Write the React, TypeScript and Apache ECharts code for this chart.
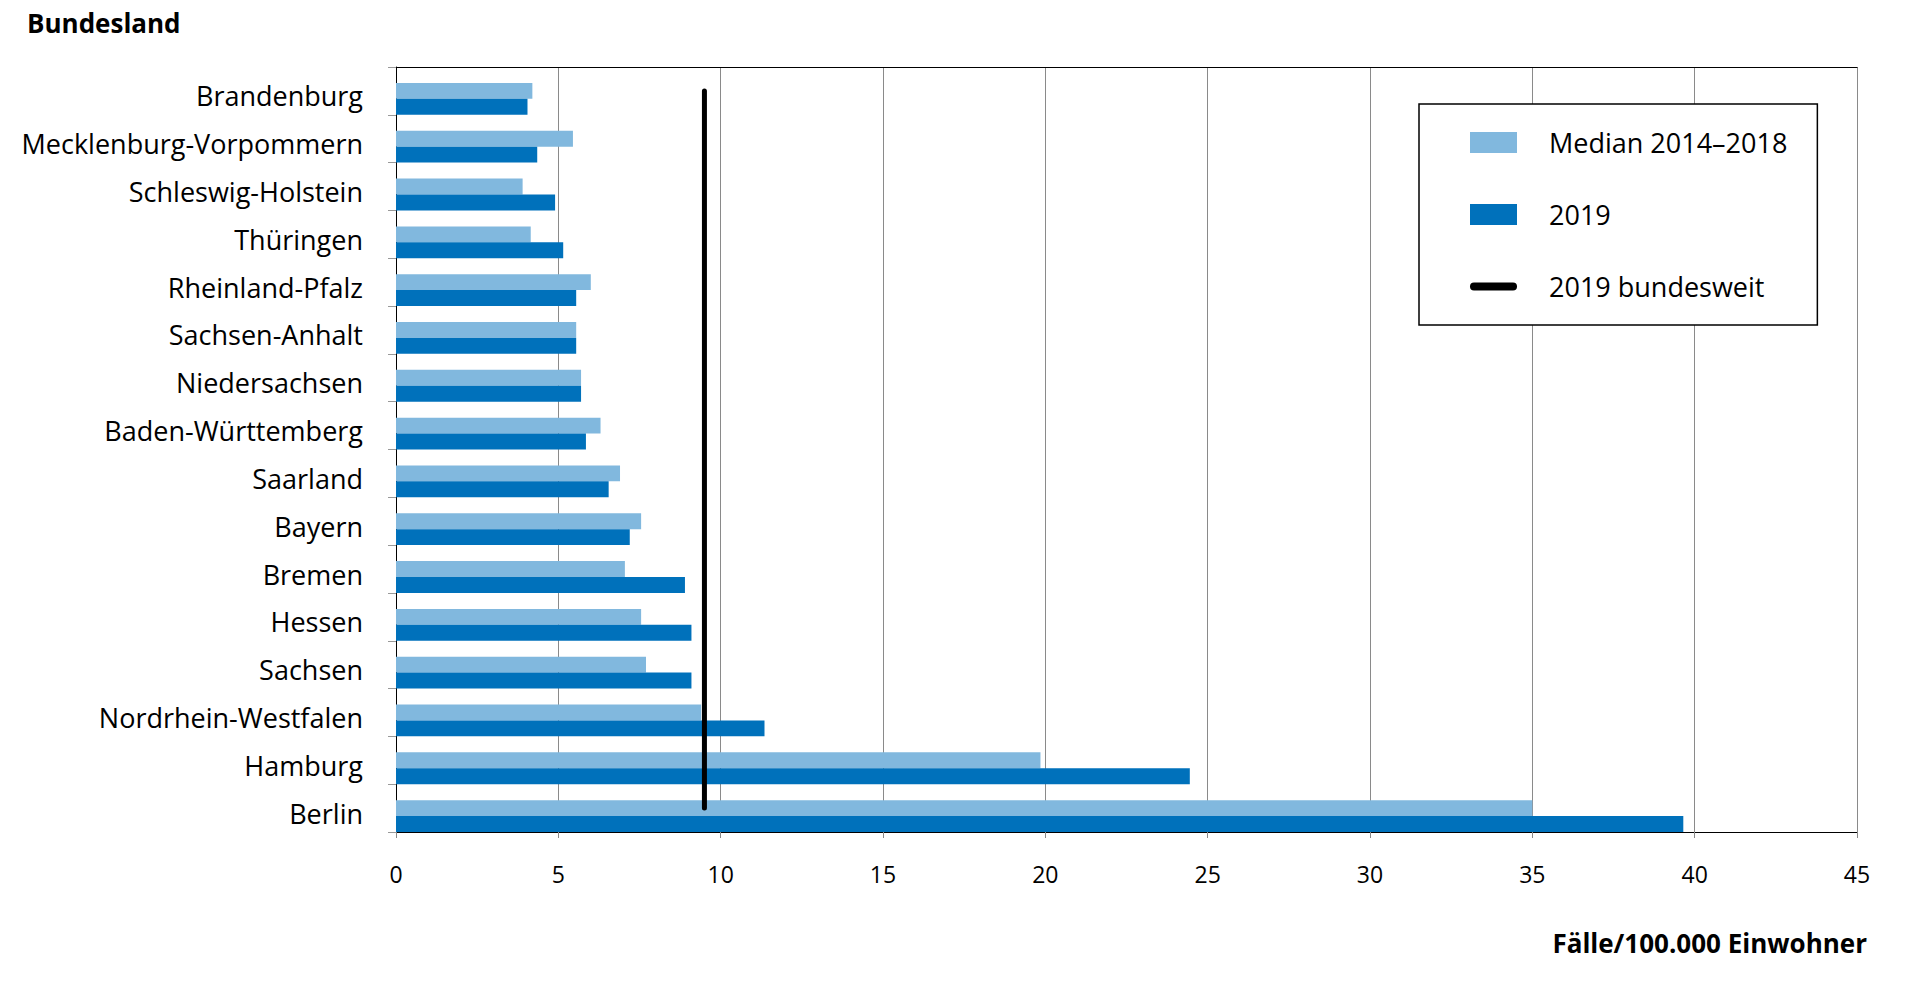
import React, { useEffect, useRef } from 'react';
import * as echarts from 'echarts';

const categories = [
  'Brandenburg',
  'Mecklenburg-Vorpommern',
  'Schleswig-Holstein',
  'Thüringen',
  'Rheinland-Pfalz',
  'Sachsen-Anhalt',
  'Niedersachsen',
  'Baden-Württemberg',
  'Saarland',
  'Bayern',
  'Bremen',
  'Hessen',
  'Sachsen',
  'Nordrhein-Westfalen',
  'Hamburg',
  'Berlin',
];
const median20142018 = [4.2, 5.45, 3.9, 4.15, 6.0, 5.55, 5.7, 6.3, 6.9, 7.55, 7.05, 7.55, 7.7, 9.4, 19.85, 35.0];
const values2019 = [4.05, 4.35, 4.9, 5.15, 5.55, 5.55, 5.7, 5.85, 6.55, 7.2, 8.9, 9.1, 9.1, 11.35, 24.45, 39.65];
const bundesweit2019 = 9.5;
const xMin = 0;
const xMax = 45;
const xStep = 5;

const seriesNames = ['Median 2014–2018', '2019', '2019 bundesweit'];
const yAxisTitle = 'Bundesland';
const xAxisTitle = 'Fälle/100.000 Einwohner';

const FONT = '"Open Sans", "Noto Sans", sans-serif';
const LIGHT = '#81b8de';
const DARK = '#0071bb';
const BAR_W = 15.93;

export default function App() {
  const ref = useRef<HTMLDivElement>(null);
  useEffect(() => {
    const chart = echarts.init(ref.current!, null, { renderer: 'svg' });
    const option = {
      animation: false,
      backgroundColor: '#fff',
      grid: { left: 396, right: 50, top: 67, bottom: 157, containLabel: false },
      xAxis: [
        {
          type: 'value',
          min: xMin,
          max: xMax,
          interval: xStep,
          position: 'bottom',
          axisLine: { show: true, lineStyle: { color: '#000', width: 1 } },
          axisTick: { show: true, length: 6, lineStyle: { color: '#888' } },
          axisLabel: { fontFamily: FONT, fontSize: 23, color: '#000', margin: 30 },
          splitLine: { show: true, lineStyle: { color: '#8a8a8a', width: 1 } },
        },
        {
          type: 'value',
          min: xMin,
          max: xMax,
          interval: xStep,
          position: 'top',
          axisLine: { show: true, lineStyle: { color: '#000', width: 1 } },
          axisTick: { show: false },
          axisLabel: { show: false },
          splitLine: { show: false },
        },
      ],
      yAxis: {
        type: 'category',
        inverse: true,
        data: categories,
        axisLine: { show: true, lineStyle: { color: '#000', width: 1 } },
        axisTick: { show: true, length: 8, lineStyle: { color: '#999' } },
        axisLabel: {
          fontFamily: FONT,
          fontSize: 27,
          color: '#000',
          margin: 33,
          verticalAlign: 'top',
          lineHeight: 10,
        },
        splitLine: { show: false },
      },
      legend: {
        orient: 'vertical',
        left: 1419,
        top: 104,
        padding: [25, 30, 25, 51],
        itemWidth: 47,
        itemHeight: 21,
        itemGap: 45,
        borderColor: '#000',
        borderWidth: 1.5,
        backgroundColor: '#fff',
        selectedMode: false,
        data: [
          { name: seriesNames[0], icon: 'rect' },
          { name: seriesNames[1], icon: 'rect' },
          { name: seriesNames[2], icon: 'path://M4,0H43A4,4 0 0 1 43,8H4A4,4 0 0 1 4,0Z' },
        ],
        formatter: '{t|{name}}',
        textStyle: {
          rich: {
            t: { fontFamily: FONT, fontSize: 27, color: '#000', padding: [0, 0, 0, 27] },
          },
        },
      },
      series: [
        {
          name: 'spacer',
          type: 'bar',
          data: categories.map(() => 0),
          barWidth: BAR_W,
          barGap: '0%',
          itemStyle: { opacity: 0 },
          silent: true,
        },
        {
          name: seriesNames[0],
          type: 'bar',
          data: median20142018,
          barWidth: BAR_W,
          barGap: '0%',
          itemStyle: { color: LIGHT },
          silent: true,
        },
        {
          name: seriesNames[1],
          type: 'bar',
          data: values2019,
          barWidth: BAR_W,
          barGap: '0%',
          itemStyle: { color: DARK },
          silent: true,
        },
        {
          name: seriesNames[2],
          type: 'line',
          data: [
            [bundesweit2019, categories[0]],
            [bundesweit2019, categories[categories.length - 1]],
          ],
          symbol: 'none',
          color: '#000',
          itemStyle: { color: '#000' },
          lineStyle: { color: '#000', width: 5, cap: 'round' },
          z: 5,
          silent: true,
        },
      ],
      graphic: [
        {
          type: 'text',
          x: 27,
          y: 23,
          style: {
            text: yAxisTitle,
            fontFamily: FONT,
            fontSize: 26,
            fontWeight: 'bold',
            fill: '#000',
            align: 'left',
            verticalAlign: 'middle',
          },
        },
        {
          type: 'text',
          x: 1867,
          y: 943,
          style: {
            text: xAxisTitle,
            fontFamily: FONT,
            fontSize: 26,
            fontWeight: 'bold',
            fill: '#000',
            align: 'right',
            verticalAlign: 'middle',
          },
        },
      ],
    };
    chart.setOption(option as any);
    return () => chart.dispose();
  }, []);
  return (
    <div
      ref={ref}
      style={{ position: 'absolute', left: 0, top: 0, width: 1907, height: 989 }}
    />
  );
}
